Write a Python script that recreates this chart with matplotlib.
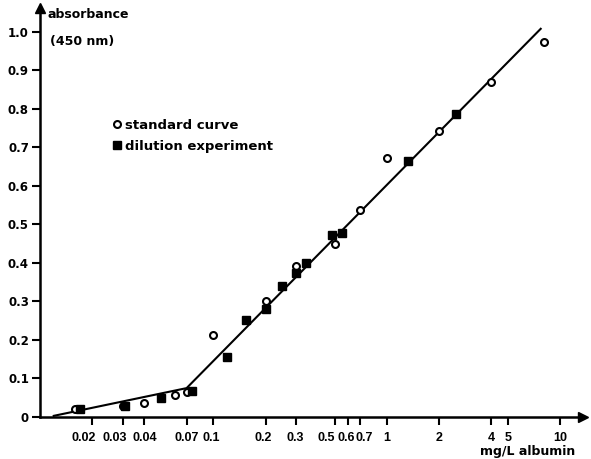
import matplotlib
matplotlib.use("Agg")
import matplotlib.pyplot as plt
from matplotlib.ticker import FixedLocator, NullLocator
from matplotlib.transforms import ScaledTranslation

plt.rcParams['font.family'] = ['DejaVu Sans']
plt.rcParams['font.weight'] = 'bold'

# standard curve (open circles)
std_x = [0.016, 0.03, 0.04, 0.06, 0.07, 0.1, 0.2, 0.3, 0.5, 0.7, 1, 2, 4, 8]
std_y = [0.021, 0.028, 0.036, 0.058, 0.065, 0.213, 0.300, 0.392, 0.449, 0.538, 0.673, 0.743, 0.870, 0.974]

# dilution experiment (filled squares)
dil_x = [0.017, 0.031, 0.05, 0.075, 0.12, 0.155, 0.2, 0.25, 0.3, 0.34, 0.48, 0.55, 1.32, 2.5]
dil_y = [0.021, 0.028, 0.049, 0.068, 0.155, 0.252, 0.280, 0.340, 0.374, 0.400, 0.473, 0.478, 0.665, 0.787]

# hand drawn fit line
fit_x = [0.012, 0.07, 7.7]
fit_y = [0.003, 0.075, 1.008]

x_ticks = [0.02, 0.03, 0.04, 0.07, 0.1, 0.2, 0.3, 0.5, 0.6, 0.7, 1, 2, 4, 5, 10]
x_labels = ["0.02", "0.03", "0.04", "0.07", "0.1", "0.2", "0.3", "0.5", "0.6", "0.7", "1", "2", "4", "5", "10"]
y_ticks = [0, 0.1, 0.2, 0.3, 0.4, 0.5, 0.6, 0.7, 0.8, 0.9, 1.0]
y_labels = ["0", "0.1", "0.2", "0.3", "0.4", "0.5", "0.6", "0.7", "0.8", "0.9", "1.0"]

# the typeset labels are not all centred on their ticks (pixels)
x_label_shift = [-9, -8, 0, 0, -2, -2, -1, -8, -2, 4, 0, 0, 0, 0, 0]

x_font = ['Liberation Sans', 'DejaVu Sans']

fig = plt.figure(figsize=(5.91, 4.59), dpi=100)
ax = fig.add_axes([40 / 591, 42 / 459, 543 / 591, 409 / 459])

ax.plot(fit_x, fit_y, color="black", lw=1.5, zorder=2)
ax.plot(std_x, std_y, "o", ms=5, mfc="white", mec="black", mew=1.5, zorder=3, label="standard curve")
ax.plot(dil_x, dil_y, "s", ms=6, color="black", zorder=3, label="dilution experiment")

ax.set_xscale("log")
ax.set_xlim(0.01, 13.5)
ax.set_ylim(0, 1.062)

ax.xaxis.set_major_locator(FixedLocator(x_ticks))
ax.xaxis.set_minor_locator(NullLocator())
ax.set_xticklabels(x_labels, family=x_font, fontsize=9)
ax.set_yticks(y_ticks)
ax.set_yticklabels(y_labels, fontsize=8.5)
ax.tick_params(axis="both", direction="out", length=6, width=1.5, pad=2)
ax.tick_params(axis="x", pad=5)

for lab, dx in zip(ax.get_xticklabels(), x_label_shift):
    lab.set_transform(lab.get_transform() + ScaledTranslation(dx / 100, 0, fig.dpi_scale_trans))

for s in ["top", "right"]:
    ax.spines[s].set_visible(False)
for s in ["left", "bottom"]:
    ax.spines[s].set_linewidth(1.8)

# arrow heads on the axes
ax.plot(1, 0, ">", color="black", ms=7, transform=ax.transAxes, clip_on=False)
ax.plot(0, 1, "^", color="black", ms=7, transform=ax.transAxes, clip_on=False)

ax.legend(loc="upper left", bbox_to_anchor=(0.122, 0.745), frameon=False, fontsize=9.5,
          handlelength=0.6, handletextpad=0.3, labelspacing=0.6, borderpad=0)

fig.text(48 / 591, 1 - 14 / 459, "absorbance", fontsize=9, va="center", ha="left")
fig.text(50 / 591, 1 - 42 / 459, "(450 nm)", fontsize=9, va="center", ha="left")
fig.text(528 / 591, 1 - 452 / 459, "mg/L albumin", fontsize=9, va="center", ha="center")

fig.savefig("out.png", dpi=100)
